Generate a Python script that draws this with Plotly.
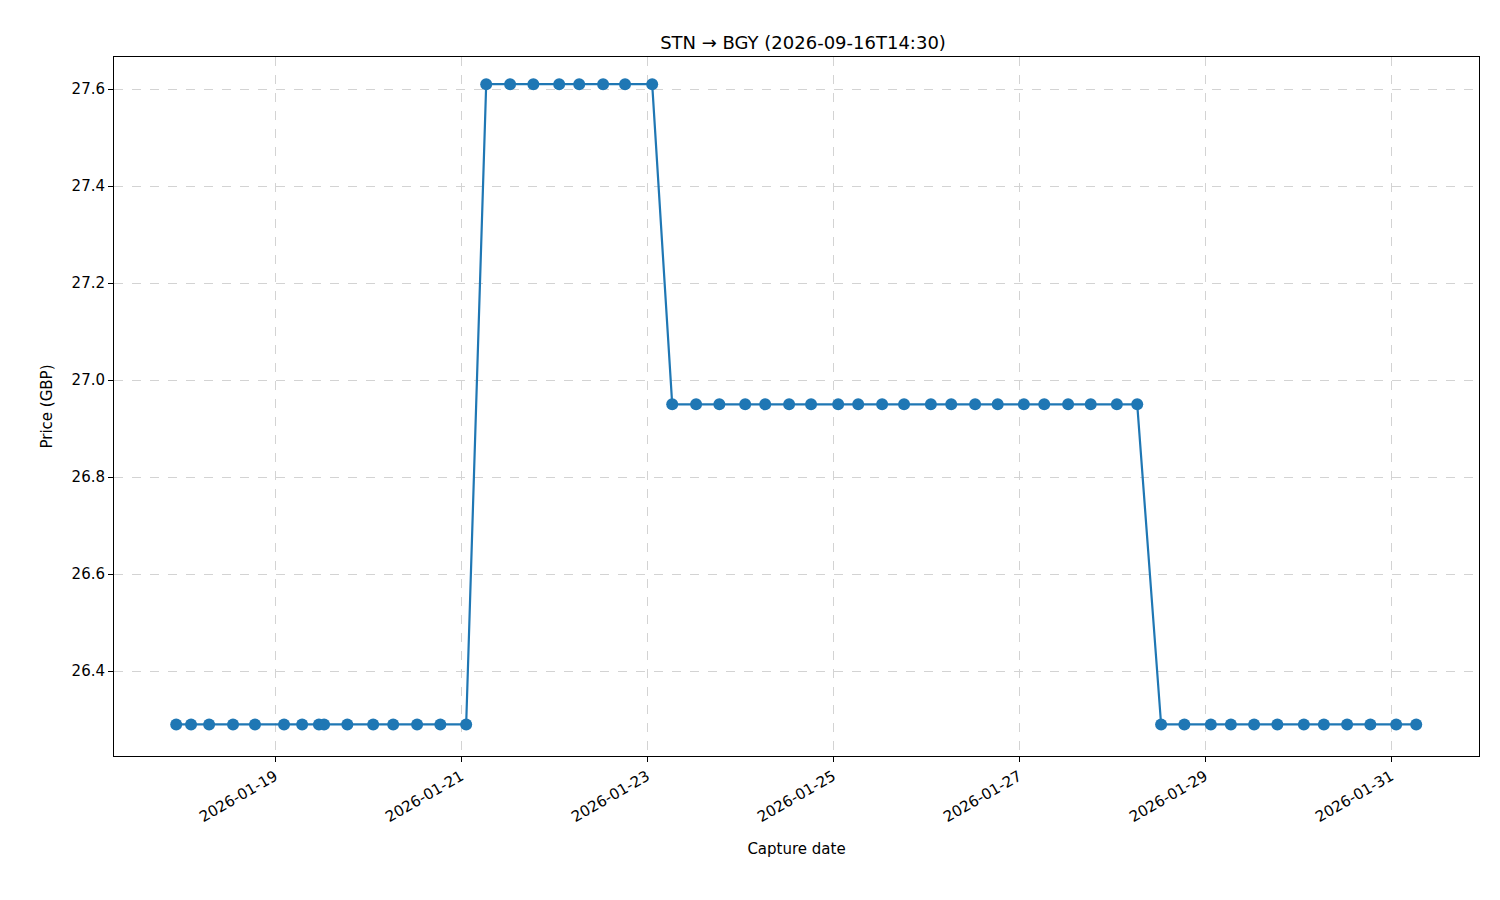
import plotly.graph_objects as go

# capture timestamps and prices
times = [
    "2026-01-17 22:30", "2026-01-18 02:20", "2026-01-18 07:00", "2026-01-18 13:10",
    "2026-01-18 18:50", "2026-01-19 02:20", "2026-01-19 07:00", "2026-01-19 11:20",
    "2026-01-19 12:40", "2026-01-19 18:40", "2026-01-20 01:20", "2026-01-20 06:30",
    "2026-01-20 12:40", "2026-01-20 18:40", "2026-01-21 01:20",
    "2026-01-21 06:30", "2026-01-21 12:40", "2026-01-21 18:40", "2026-01-22 01:20",
    "2026-01-22 06:30", "2026-01-22 12:40", "2026-01-22 18:20", "2026-01-23 01:20",
    "2026-01-23 06:30", "2026-01-23 12:40", "2026-01-23 18:40", "2026-01-24 01:20",
    "2026-01-24 06:30", "2026-01-24 12:40", "2026-01-24 18:20", "2026-01-25 01:20",
    "2026-01-25 06:30", "2026-01-25 12:40", "2026-01-25 18:20", "2026-01-26 01:15",
    "2026-01-26 06:30", "2026-01-26 12:40", "2026-01-26 18:30", "2026-01-27 01:15",
    "2026-01-27 06:30", "2026-01-27 12:40", "2026-01-27 18:30", "2026-01-28 01:15",
    "2026-01-28 06:30",
    "2026-01-28 12:40", "2026-01-28 18:40", "2026-01-29 01:30", "2026-01-29 06:40",
    "2026-01-29 12:40", "2026-01-29 18:40", "2026-01-30 01:30", "2026-01-30 06:40",
    "2026-01-30 12:40", "2026-01-30 18:40", "2026-01-31 01:20", "2026-01-31 06:30",
]
prices = [26.29] * 15 + [27.61] * 8 + [26.95] * 21 + [26.29] * 12

tick_vals = ["2026-01-19", "2026-01-21", "2026-01-23", "2026-01-25",
             "2026-01-27", "2026-01-29", "2026-01-31"]

fig = go.Figure(go.Scatter(
    x=times, y=prices, mode="lines+markers",
    line=dict(color="#1f77b4", width=2.2),
    marker=dict(color="#1f77b4", size=12),
))

axis = dict(showline=True, linecolor="black", linewidth=1, mirror=True,
            ticks="outside", ticklen=5, tickcolor="black",
            showgrid=True, gridcolor="#d3d3d3", griddash="dash", zeroline=False,
            tickfont=dict(size=15, color="black"))

fig.update_layout(
    width=1500, height=900, plot_bgcolor="white", paper_bgcolor="white",
    font=dict(family="DejaVu Sans", color="black"),
    title=dict(text="STN → BGY (2026-09-16T14:30)", x=0.53, xanchor="center",
               y=0.968, font=dict(size=18)),
    margin=dict(l=106, r=29, t=49, b=152),
    showlegend=False,
)
fig.update_xaxes(**axis, type="date", range=["2026-01-17 06:27", "2026-01-31 22:42"],
                 tickvals=tick_vals, ticktext=tick_vals, tickangle=-30,
                 title=dict(text="Capture date", font=dict(size=15), standoff=18))
fig.update_yaxes(**axis, range=[26.225, 27.666], dtick=0.2, tickformat=".1f",
                 title=dict(text="Price (GBP)", font=dict(size=15)))

fig.write_html("out.html")
